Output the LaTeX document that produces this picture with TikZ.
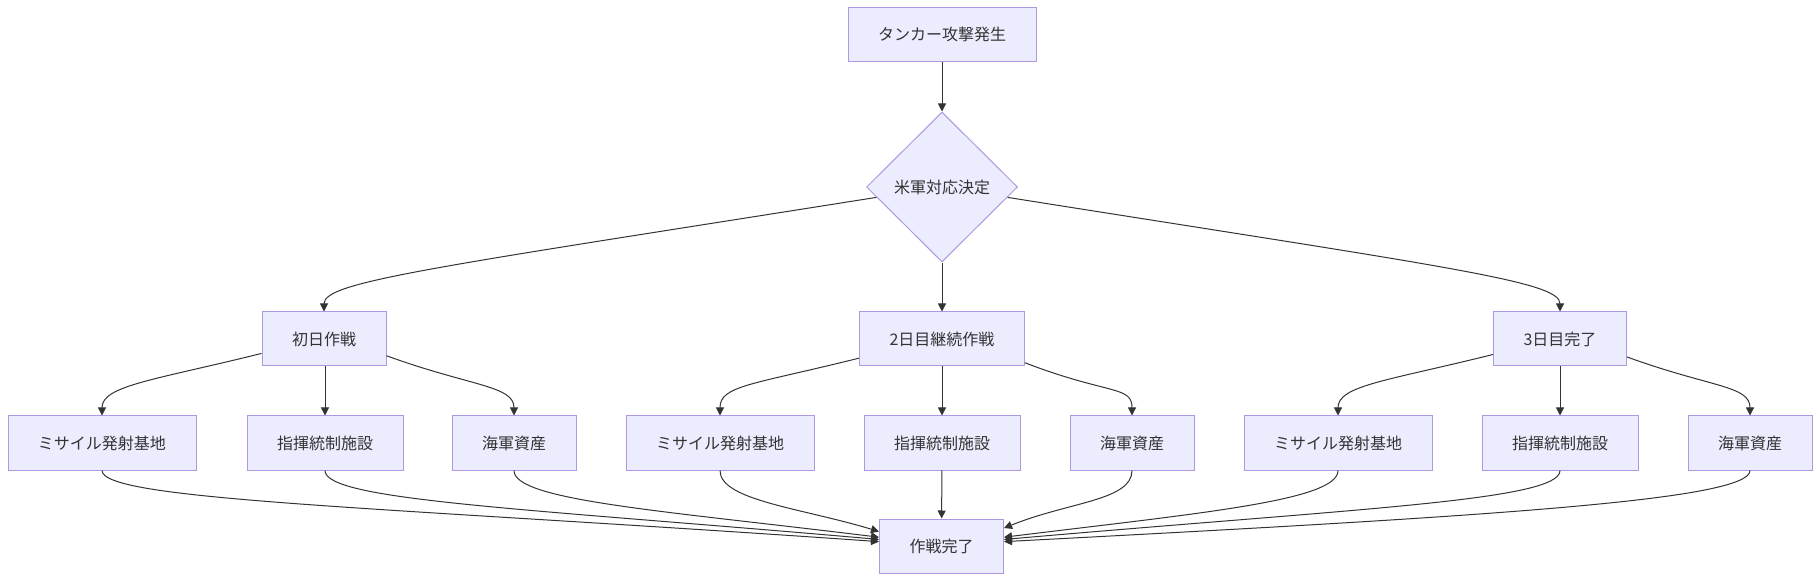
\documentclass[tikz,border=0pt]{standalone}
\usepackage{fontspec}
\setmainfont{Noto Sans CJK JP}
\usetikzlibrary{arrows.meta, shapes.geometric}

\begin{document}
\begin{tikzpicture}[x=0.5pt, y=-0.5pt]

% -------------------------------------------------------
% Layout parameters (pixels of the chart, y downwards)
% -------------------------------------------------------
\def\xMid{942}     % main column
\def\xDayA{324}    % day 1 column
\def\xDayC{1560}   % day 3 column
\def\dxMis{222}    % left target offset
\def\dxNav{190}    % right target offset

% Y positions
\def\yTop{34.5}
\def\yDec{187}
\def\yDay{339}
\def\yTgt{443}
\def\yEnd{546}

% colors
\definecolor{cFill}{HTML}{ECECFF}
\definecolor{cLine}{HTML}{AE98E0}
\definecolor{cEdge}{HTML}{333333}

\tikzstyle{flowbox} = [draw=cLine, fill=cFill, line width=0.5pt, text=cEdge, inner xsep=15pt, minimum height=27pt, font=\fontsize{8}{10}\selectfont];
\tikzstyle{decision} = [flowbox, diamond, aspect=1, inner sep=1pt, minimum width=75.5pt, minimum height=75pt];
\tikzstyle{edgeline} = [cEdge, line width=0.5pt, -{Triangle[length=4pt,width=4pt]}];

\useasboundingbox (0,0) rectangle (1820,582);


%%%%%% DRAW NODES
% start + decision
\node[flowbox] (nTop) at (\xMid, \yTop) {タンカー攻撃発生};
\node[decision] (nDec) at (\xMid, \yDec) {米軍対応決定};

% days
\node[flowbox] (nDayA) at (\xDayA, \yDay) {初日作戦};
\node[flowbox] (nDayB) at (\xMid, \yDay) {2日目継続作戦};
\node[flowbox] (nDayC) at (\xDayC, \yDay) {3日目完了};

% targets, day 1
\node[flowbox] (nMisA) at (\xDayA-\dxMis, \yTgt) {ミサイル発射基地};
\node[flowbox] (nCmdA) at (\xDayA+1, \yTgt) {指揮統制施設};
\node[flowbox] (nNavA) at (\xDayA+\dxNav, \yTgt) {海軍資産};

% targets, day 2
\node[flowbox] (nMisB) at (\xMid-\dxMis, \yTgt) {ミサイル発射基地};
\node[flowbox] (nCmdB) at (\xMid, \yTgt) {指揮統制施設};
\node[flowbox] (nNavB) at (\xMid+\dxNav, \yTgt) {海軍資産};

% targets, day 3
\node[flowbox] (nMisC) at (\xDayC-\dxMis, \yTgt) {ミサイル発射基地};
\node[flowbox] (nCmdC) at (\xDayC, \yTgt) {指揮統制施設};
\node[flowbox] (nNavC) at (\xDayC+\dxNav, \yTgt) {海軍資産};

% end
\node[flowbox] (nEnd) at (\xMid-0.5, \yEnd) {作戦完了};


%%%%%% DRAW EDGES
\draw[edgeline] (nTop) -- (nDec);
\draw[edgeline] (nDec.189) to[out=189, in=90, out distance=225pt, in distance=15pt] (nDayA.north);
\draw[edgeline] (nDec) -- (nDayB);
\draw[edgeline] (nDec.351) to[out=351, in=90, out distance=225pt, in distance=15pt] (nDayC.north);

% day 1
\draw[edgeline] (nDayA.193) to[out=194, in=90, out distance=55pt, in distance=15pt] (nMisA.north);
\draw[edgeline] (nDayA.south -| nCmdA) -- (nCmdA);
\draw[edgeline] (nDayA.345) to[out=340, in=90, out distance=45pt, in distance=15pt] (nNavA.north);

% day 2
\draw[edgeline] (nDayB.193) to[out=194, in=90, out distance=55pt, in distance=15pt] (nMisB.north);
\draw[edgeline] (nDayB) -- (nCmdB);
\draw[edgeline] (nDayB.344) to[out=339, in=90, out distance=45pt, in distance=15pt] (nNavB.north);

% day 3
\draw[edgeline] (nDayC.193) to[out=194, in=90, out distance=55pt, in distance=15pt] (nMisC.north);
\draw[edgeline] (nDayC) -- (nCmdC);
\draw[edgeline] (nDayC.345) to[out=340, in=90, out distance=45pt, in distance=15pt] (nNavC.north);

%%% INTO END
\draw[edgeline] (nMisA.south) to[out=270, in=176, out distance=15pt, in distance=250pt] (nEnd.176);
\draw[edgeline] (nCmdA.south) to[out=270, in=175, out distance=15pt, in distance=180pt] (nEnd.174);
\draw[edgeline] (nNavA.south) to[out=270, in=173, out distance=15pt, in distance=110pt] (nEnd.172);
\draw[edgeline] (nMisB.south) to[out=270, in=163, out distance=15pt, in distance=40pt] (nEnd.167);
\draw[edgeline] (nCmdB) -- (nEnd);
\draw[edgeline] (nNavB.south) to[out=270, in=22, out distance=15pt, in distance=35pt] (nEnd.16);
\draw[edgeline] (nMisC.south) to[out=270, in=7, out distance=15pt, in distance=100pt] (nEnd.8);
\draw[edgeline] (nCmdC.south) to[out=270, in=5, out distance=15pt, in distance=180pt] (nEnd.6);
\draw[edgeline] (nNavC.south) to[out=270, in=3, out distance=15pt, in distance=240pt] (nEnd.4);

\end{tikzpicture}
\end{document}
